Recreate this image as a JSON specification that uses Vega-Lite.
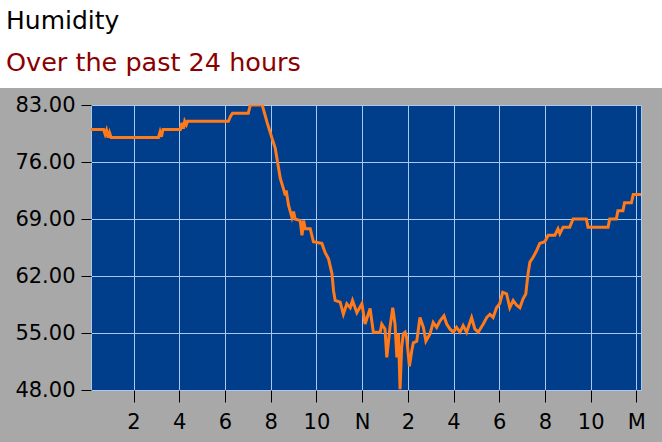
{
  "$schema": "https://vega.github.io/schema/vega-lite/v6.json",
  "background": "#a8a8a8",
  "padding": 0,
  "spacing": 5,
  "config": {
    "font": "DejaVu Sans",
    "axis": {
      "labelFont": "DejaVu Sans",
      "labelFontSize": 21,
      "labelColor": "#000000",
      "tickColor": "#000000",
      "tickWidth": 1,
      "domain": false,
      "gridColor": "#a9c8ee",
      "gridWidth": 1,
      "gridOpacity": 1,
      "title": null
    }
  },
  "vconcat": [
    {
      "width": 572,
      "height": 88,
      "view": { "fill": "#ffffff", "stroke": null },
      "title": {
        "text": "Humidity",
        "subtitle": "Over the past 24 hours",
        "anchor": "start",
        "frame": "bounds",
        "orient": "top",
        "offset": -76,
        "dx": 5,
        "font": "DejaVu Sans",
        "fontSize": 25,
        "fontWeight": "normal",
        "color": "#000000",
        "subtitleFont": "DejaVu Sans",
        "subtitleFontSize": 25.5,
        "subtitleColor": "#8b0000",
        "subtitlePadding": 17
      },
      "data": { "values": [] },
      "mark": "rect",
      "encoding": {
        "y": {
          "field": "row",
          "type": "quantitative",
          "scale": { "domain": [0, 1] },
          "axis": {
            "domain": true,
            "domainColor": "#ffffff",
            "domainWidth": 182,
            "domainCap": "butt",
            "translate": 0,
            "ticks": false,
            "labels": false,
            "grid": false,
            "minExtent": 90,
            "maxExtent": 90
          }
        }
      }
    },
    {
      "width": 550,
      "height": 285,
      "view": { "fill": "#003d8a", "stroke": "#a9c8ee", "strokeWidth": 1 },
      "data": {
        "values": [
          { "h": 0.14, "v": 80 },
          { "h": 0.69, "v": 80 },
          { "h": 0.76, "v": 79.4 },
          { "h": 0.82, "v": 79.9 },
          { "h": 0.89, "v": 79 },
          { "h": 0.95, "v": 79.6 },
          { "h": 1.02, "v": 79 },
          { "h": 3.09, "v": 79 },
          { "h": 3.16, "v": 79.7 },
          { "h": 3.22, "v": 79.1 },
          { "h": 3.29, "v": 80 },
          { "h": 4.05, "v": 80 },
          { "h": 4.12, "v": 80.8 },
          { "h": 4.18, "v": 80.1 },
          { "h": 4.24, "v": 81 },
          { "h": 4.31, "v": 80.6 },
          { "h": 4.36, "v": 81 },
          { "h": 6.15, "v": 81 },
          { "h": 6.24, "v": 81.6 },
          { "h": 6.33, "v": 82 },
          { "h": 7.02, "v": 82 },
          { "h": 7.11, "v": 83 },
          { "h": 7.63, "v": 83 },
          { "h": 7.84, "v": 80.9 },
          { "h": 8.06, "v": 78.9 },
          { "h": 8.2, "v": 77.7 },
          { "h": 8.3, "v": 76 },
          { "h": 8.42, "v": 74 },
          { "h": 8.56, "v": 72.7 },
          { "h": 8.64, "v": 71.9 },
          { "h": 8.68, "v": 72.5 },
          { "h": 8.78, "v": 70.7 },
          { "h": 8.85, "v": 70 },
          { "h": 8.93, "v": 69.2 },
          { "h": 9.0, "v": 69.9 },
          { "h": 9.07, "v": 69 },
          { "h": 9.29, "v": 68.8 },
          { "h": 9.37, "v": 67 },
          { "h": 9.44, "v": 68.8 },
          { "h": 9.51, "v": 67.8 },
          { "h": 9.73, "v": 67.8 },
          { "h": 9.87, "v": 66.2 },
          { "h": 10.24, "v": 66 },
          { "h": 10.38, "v": 64.9 },
          { "h": 10.53, "v": 64.1 },
          { "h": 10.68, "v": 62.3 },
          { "h": 10.75, "v": 60.2 },
          { "h": 10.82, "v": 59 },
          { "h": 11.04, "v": 58.8 },
          { "h": 11.18, "v": 57.3 },
          { "h": 11.33, "v": 58.6 },
          { "h": 11.48, "v": 58.1 },
          { "h": 11.58, "v": 59 },
          { "h": 11.77, "v": 57.5 },
          { "h": 11.99, "v": 58.6 },
          { "h": 12.13, "v": 56.1 },
          { "h": 12.35, "v": 58 },
          { "h": 12.49, "v": 55.1 },
          { "h": 12.79, "v": 55.1 },
          { "h": 12.86, "v": 56.1 },
          { "h": 13.0, "v": 55.5 },
          { "h": 13.08, "v": 52 },
          { "h": 13.22, "v": 55.7 },
          { "h": 13.34, "v": 58.1 },
          { "h": 13.44, "v": 56.1 },
          { "h": 13.52, "v": 52 },
          { "h": 13.59, "v": 54.9 },
          { "h": 13.66, "v": 48.1 },
          { "h": 13.73, "v": 53.2 },
          { "h": 13.8, "v": 54.9 },
          { "h": 13.88, "v": 55.1 },
          { "h": 13.95, "v": 54.4 },
          { "h": 14.07, "v": 50.9 },
          { "h": 14.17, "v": 52.8 },
          { "h": 14.24, "v": 53.8 },
          { "h": 14.39, "v": 54 },
          { "h": 14.53, "v": 56.9 },
          { "h": 14.68, "v": 55.7 },
          { "h": 14.79, "v": 54 },
          { "h": 14.97, "v": 54.9 },
          { "h": 15.11, "v": 56.3 },
          { "h": 15.26, "v": 55.7 },
          { "h": 15.41, "v": 56.5 },
          { "h": 15.58, "v": 57.1 },
          { "h": 15.7, "v": 56.1 },
          { "h": 15.84, "v": 55.5 },
          { "h": 15.99, "v": 55.1 },
          { "h": 16.13, "v": 55.7 },
          { "h": 16.28, "v": 55.1 },
          { "h": 16.42, "v": 55.9 },
          { "h": 16.57, "v": 55.1 },
          { "h": 16.79, "v": 56.9 },
          { "h": 16.93, "v": 55.5 },
          { "h": 17.08, "v": 55.1 },
          { "h": 17.3, "v": 56.1 },
          { "h": 17.45, "v": 56.9 },
          { "h": 17.59, "v": 57.3 },
          { "h": 17.73, "v": 56.9 },
          { "h": 17.88, "v": 58.1 },
          { "h": 18.02, "v": 58.6 },
          { "h": 18.15, "v": 60 },
          { "h": 18.32, "v": 59.8 },
          { "h": 18.46, "v": 58.1 },
          { "h": 18.61, "v": 59 },
          { "h": 18.76, "v": 58.4 },
          { "h": 18.9, "v": 58.1 },
          { "h": 19.04, "v": 59.2 },
          { "h": 19.16, "v": 59.8 },
          { "h": 19.26, "v": 62.3 },
          { "h": 19.34, "v": 63.7 },
          { "h": 19.48, "v": 64.3 },
          { "h": 19.63, "v": 65.1 },
          { "h": 19.77, "v": 66 },
          { "h": 19.99, "v": 66.2 },
          { "h": 20.14, "v": 67 },
          { "h": 20.43, "v": 67 },
          { "h": 20.57, "v": 67.8 },
          { "h": 20.65, "v": 67.2 },
          { "h": 20.79, "v": 68 },
          { "h": 21.08, "v": 68 },
          { "h": 21.23, "v": 69 },
          { "h": 21.81, "v": 69 },
          { "h": 21.88, "v": 68 },
          { "h": 22.76, "v": 68 },
          { "h": 22.83, "v": 69 },
          { "h": 23.12, "v": 69 },
          { "h": 23.19, "v": 70 },
          { "h": 23.41, "v": 70 },
          { "h": 23.48, "v": 71 },
          { "h": 23.78, "v": 71 },
          { "h": 23.86, "v": 72 },
          { "h": 24.2, "v": 72 }
        ]
      },
      "mark": { "type": "line", "color": "#ff7a1a", "strokeWidth": 3, "clip": true },
      "encoding": {
        "x": {
          "field": "h",
          "type": "quantitative",
          "scale": { "domain": [0.14, 24.2], "nice": false, "zero": false },
          "axis": {
            "values": [2, 4, 6, 8, 10, 12, 14, 16, 18, 20, 22, 24],
            "labelExpr": "datum.value == 12 ? 'N' : datum.value == 24 ? 'M' : '' + (datum.value % 12)",
            "tickSize": 12,
            "labelPadding": 9,
            "labelFlush": false,
            "labelOverlap": false,
            "minExtent": 53,
            "maxExtent": 53
          }
        },
        "y": {
          "field": "v",
          "type": "quantitative",
          "scale": { "domain": [48, 83], "nice": false, "zero": false },
          "axis": {
            "values": [48, 55, 62, 69, 76, 83],
            "format": ".2f",
            "tickSize": 10,
            "labelPadding": 6,
            "labelFlush": false,
            "labelOverlap": false,
            "minExtent": 90,
            "maxExtent": 90
          }
        }
      }
    }
  ]
}
